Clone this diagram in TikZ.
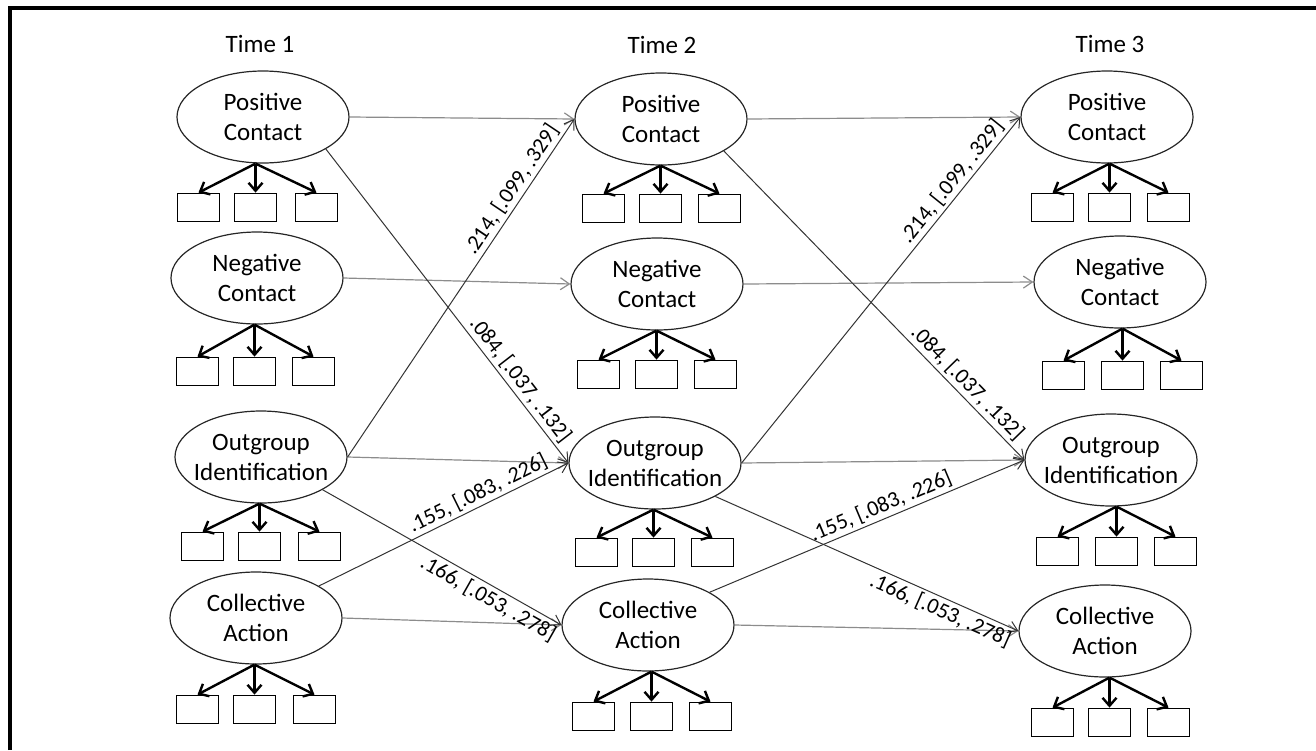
\documentclass[tikz,border=0pt]{standalone}
\usepackage{fontspec}
\setmainfont{Carlito}
\usetikzlibrary{arrows.meta,shapes.geometric}
\tikzset{
  lat/.style={ellipse, draw=black!85, line width=0.6pt, minimum width=86pt, minimum height=46pt, inner sep=0pt},
  lbl/.style={align=center, font=\fontsize{12.5}{15}\selectfont, inner sep=0pt},
  ind/.style={rectangle, draw=black, line width=0.9pt, minimum width=21pt, minimum height=14pt, inner sep=0pt},
  ld/.style={line width=1.2pt, -{Straight Barb[length=4pt,width=7pt,line width=1.2pt]}},
  hz/.style={draw=black!45, line width=0.6pt, -{Straight Barb[length=4.5pt,width=6pt]}},
  cr/.style={draw=black!80, line width=0.5pt, -{Straight Barb[length=4.5pt,width=6pt]}},
  est/.style={font=\fontsize{11}{13}\selectfont, sloped, inner sep=1.5pt},
  ttl/.style={font=\fontsize{12.5}{15}\selectfont, inner sep=0pt},
}
\newcommand\latentvar[8]{%
  \node[lat] (#1) at (#2,#3) {};
  \node[lbl] (#1t) at (#1.center) {#4};
  \node[ind] (#1a) at (#6+21.5,#5+14.5) {};
  \node[ind] (#1b) at (#7+21.5,#5+14.5) {};
  \node[ind] (#1c) at (#8+21.5,#5+14.5) {};
  \coordinate (#1r) at (#1b |- #1.south);
  \draw[ld] (#1r) -- (#1a.north);
  \draw[ld] (#1r) -- (#1b.north);
  \draw[ld] (#1r) -- (#1c.north);
}
\begin{document}
\begin{tikzpicture}[x=0.5pt,y=-0.5pt]
\useasboundingbox (0,0) rectangle (1316,750);
\draw[line width=2pt] (10,750) -- (10,8) -- (1316,8);
% titles
\node[ttl] (time1) at (260,44) {Time 1};
\node[ttl] (time2) at (662,45) {Time 2};
\node[ttl] (time3) at (1110,44) {Time 3};
% Time 1
\latentvar{aPC}{263}{117}{Positive\\Contact}{193}{177}{234}{295}
\latentvar{aNC}{257}{278}{Negative\\Contact}{357}{176}{233}{292}
\latentvar{aOI}{261}{457}{Outgroup\\Identification}{532}{181}{238}{298}
\latentvar{aCA}{256}{618}{Collective\\Action}{695}{176}{233}{293}
% Time 2
\latentvar{bPC}{661}{119}{Positive\\Contact}{194}{582}{639}{698}
\latentvar{bNC}{657}{284}{Negative\\Contact}{360}{577}{635}{694}
\latentvar{bOI}{655}{463}{Outgroup\\Identification}{538}{575}{632}{691}
\latentvar{bCA}{648}{625}{Collective\\Action}{702}{572}{630}{689}
% Time 3
\latentvar{cPC}{1107}{117}{Positive\\Contact}{193}{1031}{1088}{1147}
\latentvar{cNC}{1120}{282}{Negative\\Contact}{361}{1042}{1101}{1160}
\latentvar{cOI}{1111}{460}{Outgroup\\Identification}{537}{1036}{1095}{1154}
\latentvar{cCA}{1105}{631}{Collective\\Action}{708}{1031}{1088}{1147}
% stability paths
\draw[hz] (aPC.east) -- (bPC.west);
\draw[hz] (aNC.east) -- (bNC.west);
\draw[hz] (aOI.east) -- (bOI.west);
\draw[hz] (aCA.east) -- (bCA.west);
\draw[hz] (bPC.east) -- (cPC.west);
\draw[hz] (bNC.east) -- (cNC.west);
\draw[hz] (bOI.east) -- (cOI.west);
\draw[hz] (bCA.east) -- (cCA.west);
% cross-lagged paths T1 -> T2
\draw[cr] (aPC.-27) -- node[est, above, pos=0.76] (l1) {.084, [.037, .132]} (bOI.west);
\draw[cr] (aOI.east) -- node[est, above, pos=0.77] (l2) {.214, [.099, .329]} (bPC.west);
\draw[cr] (aCA.27) -- node[est, above, pos=0.66] (l3) {.155, [.083, .226]} (bOI.west);
\draw[cr] (aOI.-28) -- node[est, below, pos=0.72] (l4) {.166, [.053, .278]} (bCA.west);
% cross-lagged paths T2 -> T3
\draw[cr] (bPC.-27) -- node[est, above, pos=0.78] (l5) {.084, [.037, .132]} (cOI.west);
\draw[cr] (bOI.east) -- node[est, above, pos=0.79] (l6) {.214, [.099, .329]} (cPC.west);
\draw[cr] (bCA.28) -- node[est, above, pos=0.56] (l7) {.155, [.083, .226]} (cOI.west);
\draw[cr] (bOI.-29) -- node[est, below, pos=0.76] (l8) {.166, [.053, .278]} (cCA.west);
\end{tikzpicture}
\end{document}
